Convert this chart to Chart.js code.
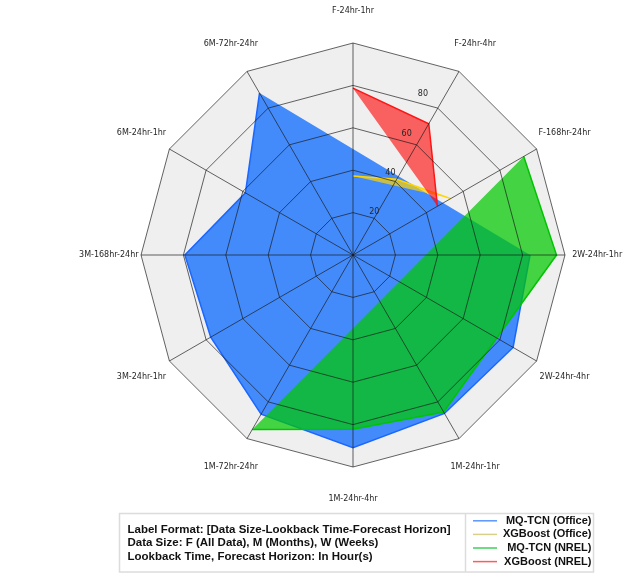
<!DOCTYPE html>
<html>
<head>
<meta charset="utf-8">
<script src="https://cdn.jsdelivr.net/npm/chart.js@4/dist/chart.umd.min.js"></script>
<style>
  html, body { margin: 0; padding: 0; background: #ffffff; }
  canvas { display: block; }
</style>
</head>
<body>
<canvas id="radar" width="625" height="573"></canvas>
<script>
// Configurations: data size - lookback time - forecast horizon
const categories = [
  'F-24hr-1hr', 'F-24hr-4hr', 'F-168hr-24hr', '2W-24hr-1hr', '2W-24hr-4hr', '1M-24hr-1hr',
  '1M-24hr-4hr', '1M-72hr-24hr', '3M-24hr-1hr', '3M-168hr-24hr', '6M-24hr-1hr', '6M-72hr-24hr'
];

// Scores per configuration (null = not evaluated)
const mqtcnOffice   = [null, null, null, 83.5, 87.2, 86.3, 90.9, 86.7, 77.5, 79.3, 58.6, 88.2];
const xgboostOffice = [37.3, 41.2, 53.2, null, null, null, null, null, null, null, null, null];
const mqtcnNrel     = [null, null, 93.0, 96.0, 78.3, 85.5, 82.2, 95.0, null, null, null, null];
const xgboostNrel   = [78.7, 71.5, 46.0, null, null, null, null, null, null, null, null, null];

const seriesNames = ['MQ-TCN (Office)', 'XGBoost (Office)', 'MQ-TCN (NREL)', 'XGBoost (NREL)'];
const seriesValues = [mqtcnOffice, xgboostOffice, mqtcnNrel, xgboostNrel];

const radialTicks = [20, 40, 60, 80];

const noteLines = [
  'Label Format: [Data Size-Lookback Time-Forecast Horizon]',
  'Data Size: F (All Data), M (Months), W (Weeks)',
  'Lookback Time, Forecast Horizon: In Hour(s)'
];

// Styling
const lineColors = ['#1a66ff', '#ffd400', '#00c400', '#ff1414'];
const fillColors = ['rgba(0,100,255,0.72)', 'rgba(255,212,0,0.7)', 'rgba(0,200,0,0.72)', 'rgba(255,0,0,0.6)'];
const keyColors  = ['#5b95ff', '#d6d08a', '#3fcf5a', '#ff5b5b'];
const gridColor = 'rgba(25,25,25,0.85)';
const labelFont = '8px "DejaVu Sans"';

// Each series: a filled polygon (spanning missing configurations) plus
// an outline that only joins neighbouring evaluated configurations.
const datasets = [];
seriesValues.forEach((vals, i) => {
  const base = 2 * (seriesValues.length - i);
  datasets.push({
    label: seriesNames[i] + ' area',
    data: vals,
    backgroundColor: fillColors[i],
    borderColor: 'transparent',
    borderWidth: 0,
    fill: 'origin',
    spanGaps: true,
    pointRadius: 0,
    order: base
  });
  datasets.push({
    label: seriesNames[i],
    data: vals,
    backgroundColor: 'transparent',
    borderColor: lineColors[i],
    borderWidth: 1.5,
    fill: false,
    spanGaps: false,
    pointRadius: 0,
    order: base - 1
  });
});

// Grey polygon behind the series
const panelBackground = {
  id: 'panelBackground',
  beforeDatasetsDraw(chart) {
    const r = chart.scales.r;
    const ctx = chart.ctx;
    const n = chart.data.labels.length;
    ctx.save();
    ctx.beginPath();
    for (let i = 0; i < n; i++) {
      const p = r.getPointPosition(i, r.drawingArea);
      if (i === 0) ctx.moveTo(p.x, p.y); else ctx.lineTo(p.x, p.y);
    }
    ctx.closePath();
    ctx.fillStyle = '#efefef';
    ctx.fill();
    ctx.restore();
  }
};

// Category names around the rim and ring values along a slanted spoke
const polarText = {
  id: 'polarText',
  afterDraw(chart) {
    const r = chart.scales.r;
    const ctx = chart.ctx;
    ctx.save();
    ctx.font = labelFont;
    ctx.fillStyle = '#262626';
    ctx.textAlign = 'center';
    ctx.textBaseline = 'middle';
    chart.data.labels.forEach((lab, i) => {
      const p = r.getPointPosition(i, r.drawingArea * 1.152);
      ctx.fillText(lab, p.x, p.y);
    });
    const tilt = 22.5 * Math.PI / 180;
    radialTicks.forEach(v => {
      const p = r.getPointPosition(0, r.getDistanceFromCenterForValue(v), tilt);
      ctx.fillText(String(v), p.x + 5, p.y - 4);
    });
    ctx.restore();
  }
};

// Note box with the series key
const noteBox = {
  id: 'noteBox',
  afterDraw(chart) {
    const ctx = chart.ctx;
    const box = { left: 119.5, top: 513.5, right: 593.5, bottom: 572, split: 465.5 };
    ctx.save();
    ctx.strokeStyle = '#dcdcdc';
    ctx.lineWidth = 1.5;
    ctx.strokeRect(box.left, box.top, box.right - box.left, box.bottom - box.top);
    ctx.beginPath();
    ctx.moveTo(box.split, box.top);
    ctx.lineTo(box.split, box.bottom);
    ctx.stroke();

    ctx.fillStyle = '#111111';
    ctx.textBaseline = 'middle';
    ctx.textAlign = 'left';
    ctx.font = 'bold 11.5px "Liberation Sans", Arial, sans-serif';
    noteLines.forEach((t, i) => ctx.fillText(t, 127.5, 529.5 + i * 13.7));

    ctx.font = 'bold 11px "Liberation Sans", Arial, sans-serif';
    ctx.textAlign = 'right';
    seriesNames.forEach((name, i) => {
      const y = 520.8 + i * 13.6;
      ctx.strokeStyle = keyColors[i];
      ctx.lineWidth = 1.5;
      ctx.beginPath();
      ctx.moveTo(473, y);
      ctx.lineTo(497, y);
      ctx.stroke();
      ctx.fillText(name, 591.5, y);
    });
    ctx.restore();
  }
};

new Chart(document.getElementById('radar'), {
  type: 'radar',
  data: { labels: categories, datasets },
  options: {
    responsive: false,
    animation: false,
    layout: { padding: { left: 141, right: 60, top: 43, bottom: 106 } },
    plugins: {
      legend: { display: false },
      tooltip: { enabled: false },
      filler: { propagate: false }
    },
    elements: { line: { tension: 0 } },
    scales: {
      r: {
        min: 0,
        max: 100,
        beginAtZero: true,
        ticks: { stepSize: 20, display: false },
        pointLabels: { display: false },
        grid: { color: gridColor, lineWidth: 0.8, circular: false, z: 1 },
        angleLines: { color: gridColor, lineWidth: 0.8 }
      }
    }
  },
  plugins: [panelBackground, polarText, noteBox]
});
</script>
</body>
</html>
